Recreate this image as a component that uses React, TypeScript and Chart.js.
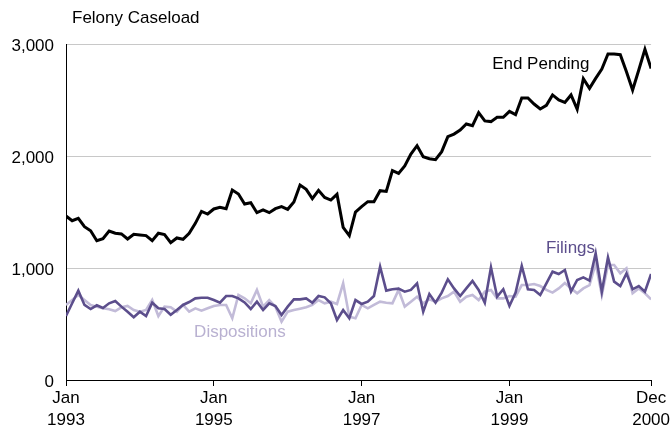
import React, { useEffect, useRef } from "react";
import { Chart, registerables } from "chart.js";

Chart.register(...registerables);

const END_PENDING = [
  1464, 1422, 1443, 1369, 1333, 1244, 1262, 1330, 1310, 1304, 1259, 1301,
  1295, 1289, 1244, 1310, 1298, 1226, 1268, 1256, 1310, 1399, 1506, 1482,
  1527, 1542, 1530, 1696, 1661, 1571, 1583, 1494, 1518, 1494, 1530, 1548,
  1524, 1589, 1741, 1702, 1619, 1693, 1630, 1607, 1658, 1363, 1289, 1500,
  1548, 1592, 1592, 1690, 1684, 1869, 1845, 1911, 2018, 2092, 1994, 1976,
  1967, 2039, 2173, 2196, 2232, 2286, 2271, 2387, 2313, 2307, 2345, 2345,
  2399, 2369, 2518, 2518, 2464, 2420, 2452, 2545, 2500, 2479, 2545, 2417,
  2690, 2604, 2693, 2777, 2911, 2911, 2905, 2753, 2589, 2768, 2952, 2782,
];

const FILINGS = [
  571, 685, 798, 670, 634, 667, 643, 685, 705, 655, 610, 560,
  610, 571, 690, 640, 634, 583, 625, 670, 696, 729, 735, 735,
  714, 690, 750, 750, 729, 693, 634, 699, 625, 685, 661, 580,
  655, 720, 720, 729, 690, 750, 738, 685, 536, 625, 551, 714,
  679, 699, 750, 1012, 798, 810, 816, 789, 804, 863, 610, 768,
  690, 780, 899, 818, 750, 818, 884, 804, 690, 1006, 744, 810,
  661, 780, 1018, 810, 804, 759, 863, 967, 946, 982, 789, 893,
  916, 887, 1131, 789, 1095, 878, 839, 952, 810, 839, 789, 946,
];

const DISPOSITIONS = [
  670, 714, 759, 714, 670, 655, 640, 631, 616, 649, 661, 625,
  610, 625, 714, 571, 655, 649, 610, 670, 610, 640, 619, 640,
  661, 670, 670, 551, 759, 729, 685, 804, 655, 714, 655, 521,
  610, 625, 637, 649, 670, 714, 685, 699, 679, 863, 565, 551,
  670, 640, 670, 699, 690, 685, 804, 655, 699, 744, 685, 720,
  699, 729, 750, 789, 699, 744, 759, 714, 789, 804, 729, 729,
  750, 744, 848, 848, 857, 839, 804, 780, 818, 866, 818, 774,
  818, 848, 1042, 759, 1027, 1027, 952, 997, 774, 818, 774, 720,
];

const X_TICK_INDEX = [0, 24, 48, 72, 95];
const X_TICK_LABELS = [
  ["Jan", "1993"],
  ["Jan", "1995"],
  ["Jan", "1997"],
  ["Jan", "1999"],
  ["Dec", "2000"],
];
const Y_MAX = 3000;
const Y_STEP = 1000;

const TITLE = "Felony Caseload";
const SERIES_NAMES = ["End Pending", "Filings", "Dispositions"];

const FONT = "'Liberation Sans', Arial, Helvetica, sans-serif";
const C_END = "#000000";
const C_FIL = "#5c4e8c";
const C_DIS = "#c2bbd8";
const C_DIS_TEXT = "#b9b1d1";

const toPoints = (arr: number[]) => arr.map((y, i) => ({ x: i, y }));

const textPlugin = {
  id: "textPlugin",
  afterDraw(chart: any) {
    const ctx = chart.ctx;
    const xs = chart.scales.x;
    const ys = chart.scales.y;
    ctx.save();
    ctx.font = `17px ${FONT}`;
    ctx.textBaseline = "middle";
    ctx.fillStyle = "#000";
    ctx.textAlign = "left";
    ctx.fillText(TITLE, 72, 18);
    ctx.textAlign = "right";
    ctx.fillStyle = C_END;
    ctx.fillText(SERIES_NAMES[0], xs.getPixelForValue(85), ys.getPixelForValue(2821));
    ctx.fillStyle = C_FIL;
    ctx.fillText(SERIES_NAMES[1], xs.getPixelForValue(85.9), ys.getPixelForValue(1179));
    ctx.textAlign = "left";
    ctx.fillStyle = C_DIS_TEXT;
    ctx.fillText(SERIES_NAMES[2], xs.getPixelForValue(20.8), ys.getPixelForValue(430));
    ctx.restore();
  },
};

export default function App() {
  const ref = useRef<HTMLCanvasElement | null>(null);

  useEffect(() => {
    if (!ref.current) return;
    const chart = new Chart(ref.current, {
      type: "line",
      data: {
        datasets: [
          {
            label: SERIES_NAMES[0],
            data: toPoints(END_PENDING),
            borderColor: C_END,
            borderWidth: 3,
            pointRadius: 0,
            tension: 0,
            order: 0,
          },
          {
            label: SERIES_NAMES[1],
            data: toPoints(FILINGS),
            borderColor: C_FIL,
            borderWidth: 2.6,
            pointRadius: 0,
            tension: 0,
            order: 1,
          },
          {
            label: SERIES_NAMES[2],
            data: toPoints(DISPOSITIONS),
            borderColor: C_DIS,
            borderWidth: 2.6,
            pointRadius: 0,
            tension: 0,
            order: 2,
          },
        ],
      },
      options: {
        responsive: false,
        animation: false,
        devicePixelRatio: 1,
        layout: { padding: { top: 44, right: 18, bottom: 0, left: 0 } },
        plugins: {
          legend: { display: false },
          title: { display: false },
          tooltip: { enabled: false },
        },
        scales: {
          x: {
            type: "linear",
            min: 0,
            max: END_PENDING.length - 1,
            afterBuildTicks: (scale: any) => {
              scale.ticks = X_TICK_INDEX.map((v) => ({ value: v }));
            },
            afterFit: (scale: any) => {
              scale.height = 51;
            },
            grid: {
              drawOnChartArea: false,
              drawTicks: true,
              tickLength: 6,
              color: "#000",
              lineWidth: 1,
            },
            border: { display: true, color: "#000", width: 1 },
            ticks: {
              autoSkip: false,
              maxRotation: 0,
              minRotation: 0,
              padding: 2,
              color: "#000",
              font: { family: FONT, size: 17, lineHeight: 1.27 },
              callback: (value: any) => {
                const i = X_TICK_INDEX.indexOf(Number(value));
                return i >= 0 ? X_TICK_LABELS[i] : "";
              },
            },
          },
          y: {
            min: 0,
            max: Y_MAX,
            afterFit: (scale: any) => {
              scale.width = 66;
            },
            grid: {
              drawTicks: false,
              color: (c: any) => (c.tick && c.tick.value === 0 ? "rgba(0,0,0,0)" : "#c8c8c8"),
              lineWidth: 1,
            },
            border: { display: true, color: "#000", width: 1 },
            ticks: {
              stepSize: Y_STEP,
              padding: 12,
              labelOffset: 2,
              color: "#000",
              font: { family: FONT, size: 17 },
              callback: (value: any) => Number(value).toLocaleString("en-US"),
            },
          },
        },
      },
      plugins: [textPlugin],
    });
    return () => chart.destroy();
  }, []);

  return (
    <div
      style={{
        position: "fixed",
        left: 0,
        top: 0,
        width: 672,
        height: 431,
        background: "#fff",
      }}
    >
      <canvas ref={ref} width={672} height={431} style={{ display: "block" }} />
    </div>
  );
}
